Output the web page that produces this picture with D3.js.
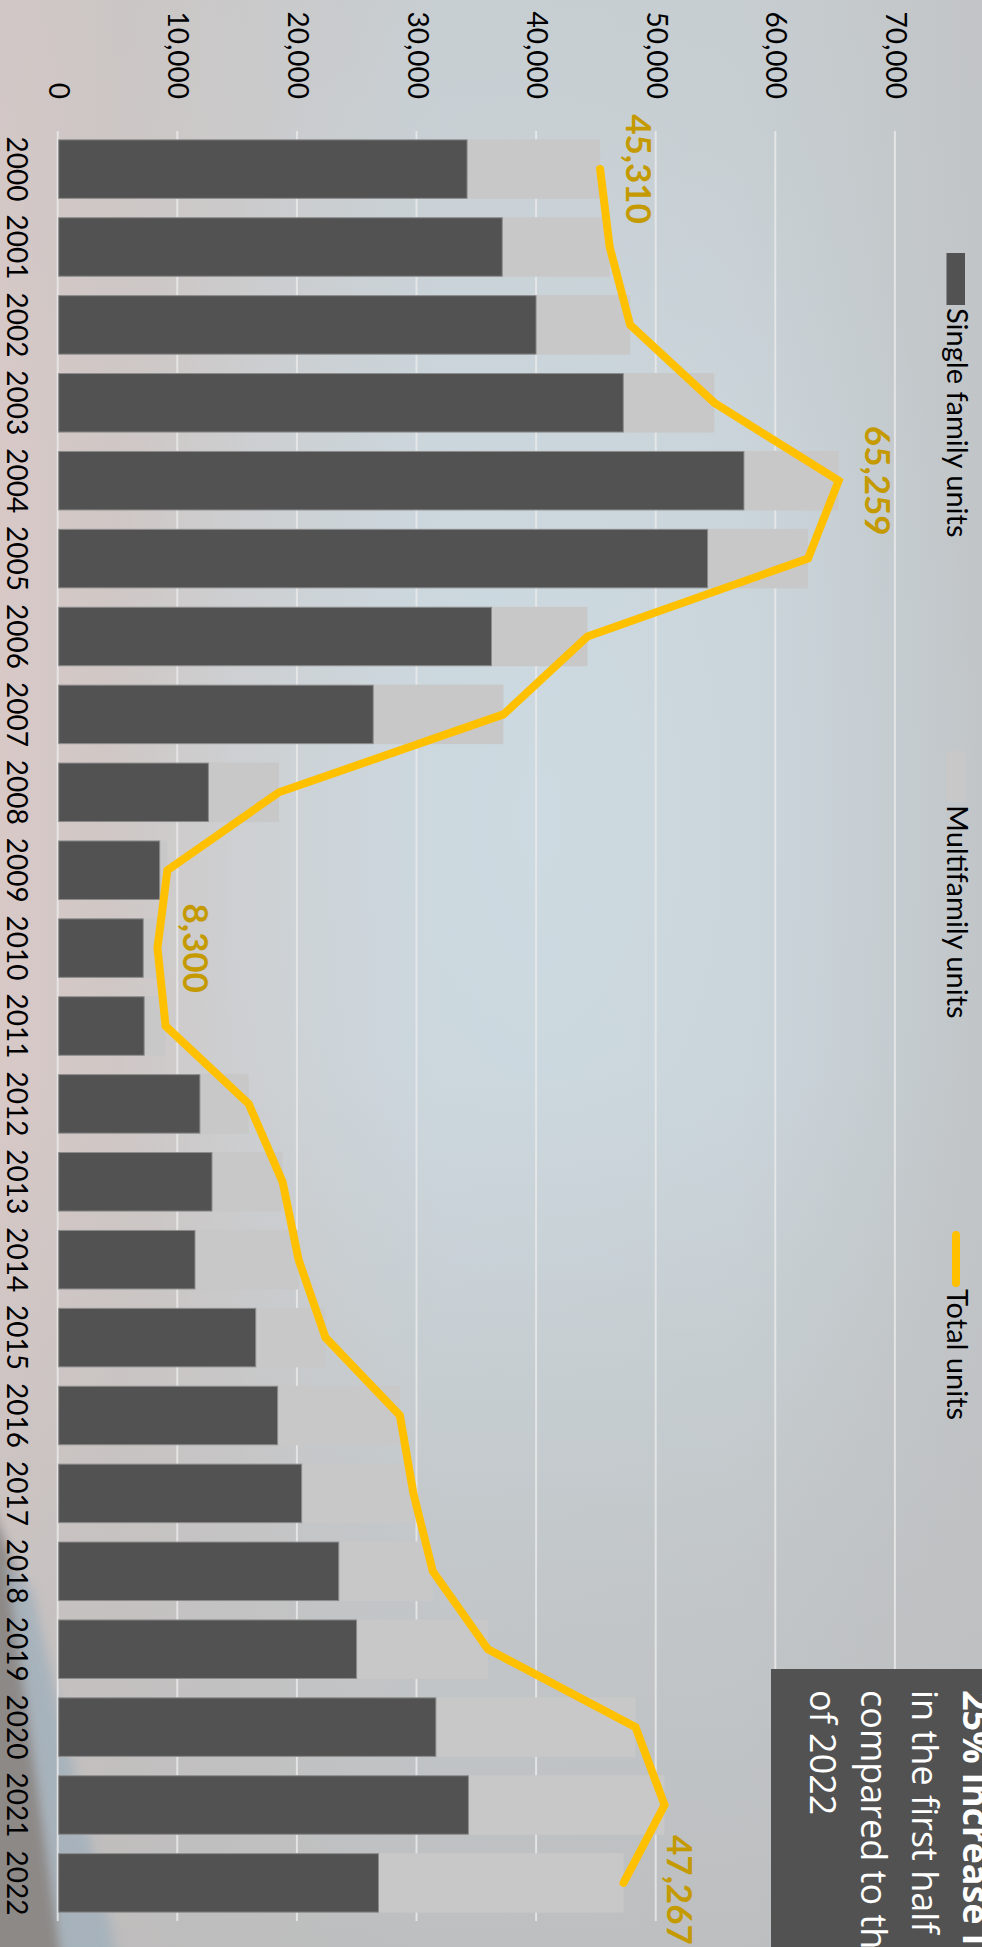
<!DOCTYPE html>
<html>
<head>
<meta charset="utf-8">
<script src="https://cdn.jsdelivr.net/npm/d3@7/dist/d3.min.js"></script>
<style>
  html, body { margin: 0; padding: 0; background: #c8ccce; }
  svg { display: block; }
</style>
</head>
<body>
<svg id="chart" width="982" height="1947"></svg>
<script>
// Building permits by year: single family vs multifamily units (stacked) and total units line
const years = ["2000","2001","2002","2003","2004","2005","2006","2007","2008","2009","2010","2011",
               "2012","2013","2014","2015","2016","2017","2018","2019","2020","2021","2022"];
const singleFamily = [34230, 37170, 40000, 47290, 57380, 54340, 36270, 26380, 12600, 8530, 7150, 7230,
                      11890, 12900, 11480, 16560, 18390, 20400, 23500, 24990, 31620, 34340, 26820];
const multifamily  = [11080, 8940, 7820, 7570, 7879, 8350, 7980, 10850, 5860, 600, 1150, 1750,
                      4040, 5860, 8620, 5790, 10180, 9300, 7820, 10940, 16650, 16360, 20447];
const valueTicks = [0, 10000, 20000, 30000, 40000, 50000, 60000, 70000];
const labeledYears = ["2000", "2004", "2010", "2022"];
const legendLabels = ["Single family units", "Multifamily units", "Total units"];
const calloutLines = ["25% increase in", "in the first half", "compared to the", "of 2022"];

const colors = { single: "#525252", multi: "#c8c8c8", total: "#ffc000", label: "#c49a00" };

const rows = years.map((year, i) => ({
  year, single: singleFamily[i], multi: multifamily[i], total: singleFamily[i] + multifamily[i]
}));

const svg = d3.select("#chart");
const W = 982, H = 1947;
const defs = svg.append("defs");

// ---- washed-out photographic backdrop ----
const bgH = defs.append("linearGradient").attr("id", "bgH").attr("x1", 0).attr("x2", 1).attr("y1", 0).attr("y2", 0);
[["0%", "#d8c9c7"], ["12%", "#cfc7c5"], ["45%", "#c9d3d9"], ["75%", "#c8d2d7"], ["100%", "#c1c5c8"]]
  .forEach(([o, c]) => bgH.append("stop").attr("offset", o).attr("stop-color", c));
const bgV = defs.append("linearGradient").attr("id", "bgV").attr("x1", 0).attr("x2", 0).attr("y1", 0).attr("y2", 1);
[["0%", "#c4c4c4", 0.35], ["25%", "#c4c4c4", 0.0], ["55%", "#c0c0c0", 0.0], ["80%", "#bdbdbd", 0.55], ["100%", "#bababa", 0.8]]
  .forEach(([o, c, a]) => bgV.append("stop").attr("offset", o).attr("stop-color", c).attr("stop-opacity", a));
const glow = defs.append("radialGradient").attr("id", "glow").attr("cx", 0.55).attr("cy", 0.42).attr("r", 0.45);
glow.append("stop").attr("offset", "0%").attr("stop-color", "#cfdde4").attr("stop-opacity", 0.7);
glow.append("stop").attr("offset", "100%").attr("stop-color", "#cfdde4").attr("stop-opacity", 0);
defs.append("filter").attr("id", "soft").attr("x", "-50%").attr("y", "-50%").attr("width", "200%").attr("height", "200%")
  .append("feGaussianBlur").attr("stdDeviation", 6);

const bg = svg.append("g");
bg.append("rect").attr("width", W).attr("height", H).attr("fill", "url(#bgH)");
bg.append("rect").attr("width", W).attr("height", H).attr("fill", "url(#glow)");
bg.append("rect").attr("width", W).attr("height", H).attr("fill", "url(#bgV)");
// blurred object in the lower-left corner of the backdrop
bg.append("path").attr("d", "M-20,1480 L12,1560 L66,1960 L-20,1960 Z").attr("fill", "#8d8987").attr("filter", "url(#soft)");
bg.append("path").attr("d", "M6,1560 L32,1590 L118,1960 L62,1960 Z").attr("fill", "#a3b1bc").attr("opacity", 0.85).attr("filter", "url(#soft)");

// ---- chart drawn as a column chart, then turned a quarter turn clockwise ----
const g = svg.append("g").attr("transform", `translate(${W},0) rotate(90)`);

const x = d3.scaleBand().domain(years).range([131, 1921]).paddingInner(0.236).paddingOuter(0.107);
const y = d3.scaleLinear().domain([0, 70000]).range([923.8, 86.6]);
const bw = x.bandwidth();

// value gridlines + tick labels
const yAxis = g.append("g").attr("transform", "translate(131,0)")
  .call(d3.axisLeft(y).tickValues(valueTicks).tickSize(-(1921 - 131)).tickPadding(32).tickFormat(d3.format(",")));
yAxis.select(".domain").remove();
yAxis.selectAll(".tick line").attr("stroke", "#e9e9e9").attr("stroke-opacity", 0.85).attr("stroke-width", 2);
yAxis.selectAll(".tick text").attr("fill", "#000").attr("font-family", "Lato, 'DejaVu Sans', sans-serif").attr("font-size", 28);

// year labels
const xAxis = g.append("g").attr("transform", `translate(0,${y(0)})`)
  .call(d3.axisBottom(x).tickSize(0).tickPadding(31));
xAxis.select(".domain").remove();
xAxis.selectAll(".tick text").attr("fill", "#000").attr("font-family", "Lato, 'DejaVu Sans', sans-serif").attr("font-size", 28);

// stacked bars
g.append("g").selectAll("rect").data(rows).join("rect")
  .attr("x", d => x(d.year)).attr("width", bw)
  .attr("y", d => y(d.total)).attr("height", d => y(d.single) - y(d.total))
  .attr("fill", colors.multi);
g.append("g").selectAll("rect").data(rows).join("rect")
  .attr("x", d => x(d.year) + 0.5).attr("width", bw - 1)
  .attr("y", d => y(d.single) + 0.5).attr("height", d => y(0) - y(d.single) - 1)
  .attr("fill", colors.single).attr("stroke", "#8c8c8c").attr("stroke-width", 1);

// total units line
const line = d3.line().x(d => x(d.year) + bw / 2).y(d => y(d.total));
g.append("path").datum(rows).attr("d", line)
  .attr("fill", "none").attr("stroke", colors.total).attr("stroke-width", 8)
  .attr("stroke-linejoin", "miter").attr("stroke-linecap", "round");

// value labels on selected years
const labelNudge = { "2022": [7, -17] };
g.append("g").selectAll("text").data(rows.filter(d => labeledYears.includes(d.year))).join("text")
  .attr("x", d => x(d.year) + bw / 2 + (labelNudge[d.year] ? labelNudge[d.year][0] : 0))
  .attr("y", d => y(d.total) - 26 + (labelNudge[d.year] ? labelNudge[d.year][1] : 0))
  .attr("text-anchor", "middle")
  .attr("font-family", "Lato, 'DejaVu Sans', sans-serif").attr("font-weight", "bold").attr("font-size", 35)
  .attr("fill", colors.label)
  .text(d => d3.format(",")(d.total));

// legend
const legend = g.append("g").attr("font-family", "Lato, 'DejaVu Sans', sans-serif").attr("font-size", 29).attr("fill", "#000");
const legendItems = [
  { label: legendLabels[0], x0: 253, x1: 305, kind: "box", color: colors.single },
  { label: legendLabels[1], x0: 751, x1: 802, kind: "box", color: colors.multi },
  { label: legendLabels[2], x0: 1235, x1: 1283, kind: "line", color: colors.total }
];
legendItems.forEach(it => {
  if (it.kind === "box") {
    legend.append("rect").attr("x", it.x0).attr("y", 17).attr("width", it.x1 - it.x0).attr("height", 18.5).attr("fill", it.color);
  } else {
    legend.append("line").attr("x1", it.x0).attr("x2", it.x1).attr("y1", 26).attr("y2", 26)
      .attr("stroke", it.color).attr("stroke-width", 8).attr("stroke-linecap", "round");
  }
  legend.append("text").attr("x", it.kind === "box" ? it.x1 + 3 : it.x1 + 6).attr("y", 35).text(it.label);
});

// callout box
const callout = g.append("g");
callout.append("rect").attr("x", 1669).attr("y", -20).attr("width", 320).attr("height", 231).attr("fill", "#525252");
callout.selectAll("text").data(calloutLines).join("text")
  .attr("x", 1690).attr("y", (d, i) => 19 + i * 51)
  .attr("font-family", "'Open Sans', 'Noto Sans', sans-serif").attr("font-size", 36)
  .attr("font-weight", (d, i) => i === 0 ? "bold" : "normal")
  .attr("fill", "#fff")
  .text(d => d);
</script>
</body>
</html>
